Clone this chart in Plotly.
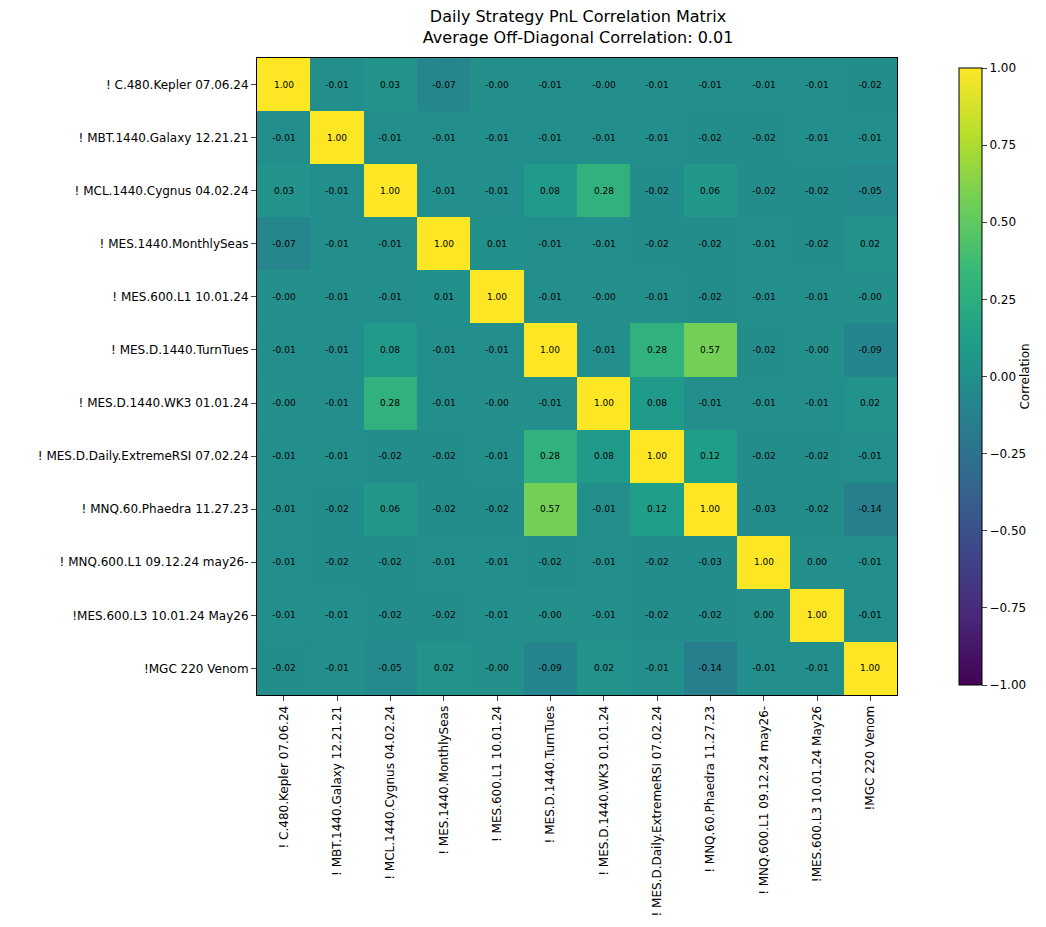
import plotly.graph_objects as go

names = ["! C.480.Kepler 07.06.24", "! MBT.1440.Galaxy 12.21.21", "! MCL.1440.Cygnus 04.02.24",
         "! MES.1440.MonthlySeas", "! MES.600.L1 10.01.24", "! MES.D.1440.TurnTues",
         "! MES.D.1440.WK3 01.01.24", "! MES.D.Daily.ExtremeRSI 07.02.24", "! MNQ.60.Phaedra 11.27.23",
         "! MNQ.600.L1 09.12.24 may26-", "!MES.600.L3 10.01.24 May26", "!MGC 220 Venom"]

# -0.001 stands for values shown as -0.00
corr = [
    [1.00, -0.01, 0.03, -0.07, -0.001, -0.01, -0.001, -0.01, -0.01, -0.01, -0.01, -0.02],
    [-0.01, 1.00, -0.01, -0.01, -0.01, -0.01, -0.01, -0.01, -0.02, -0.02, -0.01, -0.01],
    [0.03, -0.01, 1.00, -0.01, -0.01, 0.08, 0.28, -0.02, 0.06, -0.02, -0.02, -0.05],
    [-0.07, -0.01, -0.01, 1.00, 0.01, -0.01, -0.01, -0.02, -0.02, -0.01, -0.02, 0.02],
    [-0.001, -0.01, -0.01, 0.01, 1.00, -0.01, -0.001, -0.01, -0.02, -0.01, -0.01, -0.001],
    [-0.01, -0.01, 0.08, -0.01, -0.01, 1.00, -0.01, 0.28, 0.57, -0.02, -0.001, -0.09],
    [-0.001, -0.01, 0.28, -0.01, -0.001, -0.01, 1.00, 0.08, -0.01, -0.01, -0.01, 0.02],
    [-0.01, -0.01, -0.02, -0.02, -0.01, 0.28, 0.08, 1.00, 0.12, -0.02, -0.02, -0.01],
    [-0.01, -0.02, 0.06, -0.02, -0.02, 0.57, -0.01, 0.12, 1.00, -0.03, -0.02, -0.14],
    [-0.01, -0.02, -0.02, -0.01, -0.01, -0.02, -0.01, -0.02, -0.03, 1.00, 0.00, -0.01],
    [-0.01, -0.01, -0.02, -0.02, -0.01, -0.001, -0.01, -0.02, -0.02, 0.00, 1.00, -0.01],
    [-0.02, -0.01, -0.05, 0.02, -0.001, -0.09, 0.02, -0.01, -0.14, -0.01, -0.01, 1.00],
]
avg_off = 0.01

cell_text = [["%.2f" % v for v in row] for row in corr]

fig = go.Figure(go.Heatmap(
    z=corr, x=names, y=names, text=cell_text, texttemplate="%{text}",
    textfont=dict(size=9, color="black"),
    colorscale="Viridis", zmin=-1, zmax=1,
    colorbar=dict(x=1.081, xanchor="left", y=0.5, len=1, lenmode="fraction", thickness=23,
                  tickvals=[-1, -0.75, -0.5, -0.25, 0, 0.25, 0.5, 0.75, 1], tickformat=".2f",
                  ticks="outside", outlinecolor="black", outlinewidth=1,
                  title=dict(text="Correlation", side="right", font=dict(size=12)),
                  tickfont=dict(size=12)),
))

fig.update_layout(
    width=1046, height=927,
    margin=dict(l=249, r=157, t=50, b=240),
    paper_bgcolor="white", plot_bgcolor="white",
    font=dict(family="DejaVu Sans", color="black", size=12),
    title=dict(text="Daily Strategy PnL Correlation Matrix<br>Average Off-Diagonal Correlation: %.2f" % avg_off,
               x=0.545, xanchor="center", y=0.985, yanchor="top", font=dict(size=16)),
)
fig.update_xaxes(tickangle=-90, ticks="outside", showline=True, linecolor="black", mirror=True,
                 tickfont=dict(size=12))
fig.update_yaxes(autorange="reversed", ticks="outside", showline=True, linecolor="black", mirror=True,
                 tickfont=dict(size=12))

fig.write_html("out.html")
